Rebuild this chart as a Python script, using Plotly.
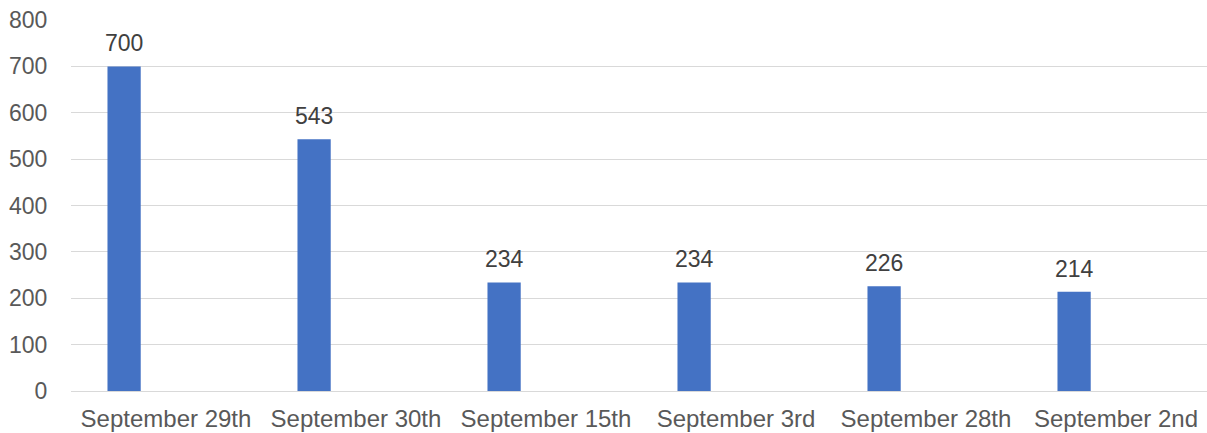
import plotly.graph_objects as go

categories = ["September 29th", "September 30th", "September 15th", "September 3rd", "September 28th", "September 2nd"]
values = [700, 543, 234, 234, 226, 214]
y_ticks = [0, 100, 200, 300, 400, 500, 600, 700, 800]

BAR_W = 0.175
BAR_OFF = -0.308

fig = go.Figure()
fig.add_trace(go.Bar(
    x=categories, y=values,
    width=BAR_W, offset=BAR_OFF,
    marker=dict(color="#4472C4", line=dict(width=0)),
    hoverinfo="x+y",
))

for c, v in zip(categories, values):
    fig.add_annotation(
        x=c, y=v, text=str(v), showarrow=False,
        xref="x", yref="y", yanchor="bottom",
        xshift=(BAR_OFF + BAR_W / 2) * 190, yshift=8,
        font=dict(family="Liberation Sans, Arial, sans-serif", size=23, color="#404040"),
    )

fig.update_layout(
    width=1207, height=433,
    margin=dict(l=71, r=0, t=20, b=42, autoexpand=False),
    paper_bgcolor="white", plot_bgcolor="white",
    showlegend=False,
    font=dict(family="Liberation Sans, Arial, sans-serif", size=22, color="#595959"),
    xaxis=dict(
        type="category", automargin=False,
        range=[-0.5, 5.5 - 4 / 190],
        showgrid=False, showline=False, zeroline=False,
        ticks="outside", ticklen=6, tickcolor="rgba(0,0,0,0)",
        tickfont=dict(size=24, color="#595959"),
    ),
    yaxis=dict(
        range=[0, 800], automargin=False,
        tickvals=y_ticks,
        showgrid=True, gridcolor="#D9D9D9", gridwidth=1,
        zeroline=True, zerolinecolor="#D9D9D9", zerolinewidth=1,
        showline=False,
        ticks="outside", ticklen=18, tickcolor="rgba(0,0,0,0)",
        tickfont=dict(size=23, color="#595959"),
    ),
)

fig.write_html(
    "out.html",
    config={"displayModeBar": False},
    post_script="document.body.style.margin='0';document.body.style.overflow='hidden';",
)
